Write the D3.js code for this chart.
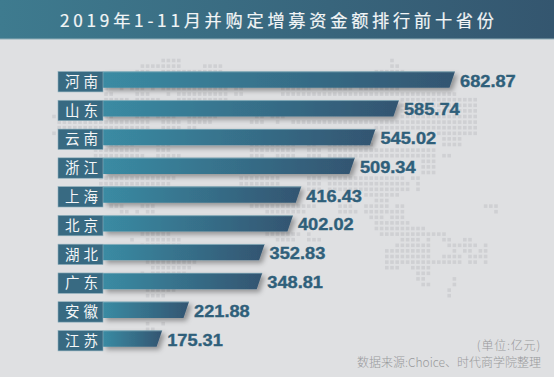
<!DOCTYPE html>
<html>
<head>
<meta charset="utf-8">
<script src="https://cdn.jsdelivr.net/npm/d3@7"></script>
<style>
  html, body { margin: 0; padding: 0; background: #dfe0e2; }
  svg { display: block; }
  text { font-family: "Noto Sans CJK SC", "Noto Sans", sans-serif; }
</style>
</head>
<body>
<div id="chart"></div>
<script>
const provinces = ['河南', '山东', '云南', '浙江', '上海', '北京', '湖北', '广东', '安徽', '江苏'];
const amounts = [682.87, 585.74, 545.02, 509.34, 416.43, 402.02, 352.83, 348.81, 221.88, 175.31];

const titleText = '2019年1-11月并购定增募资金额排行前十省份';
const unitText = '(单位:亿元)';
const sourceText = '数据来源:Choice、时代商学院整理';

// dot map behind the bars: row number, then column runs
const mapRows = [
  [0, '21-24 65'],
  [1, '17-24 29-32 65-66'],
  [2, '16-18 21-32 62-67'],
  [5, '10 13 15-17 19 21-33 35-36 44-49 52-57 59-66'],
  [6, '10-11 16-18 22 24-33 35-36 44-77'],
  [7, '10-14 16-20 24-33 67-81'],
  [8, '67-81'],
  [9, '67-81'],
  [10, '0 10-11 16-18 20-23 26-31 39-40 42-44 67-81'],
  [11, '1-18 21-24 26-30 38-40 43 46-81'],
  [12, '1-18 21-24 26-27 62-81'],
  [13, '0 74-81'],
  [14, '75-78'],
  [15, '10-15 20-22 38-46 49-50 53-61 75-78'],
  [16, '8-16 20-22 38-46 49-51 53-73'],
  [17, '8-17 20-24 38-40 43-46 49-51 53-73 75-76'],
  [18, '71-73'],
  [19, '71-73'],
  [20, '71-73'],
  [21, '9-23 36-43 49-51 53-67 69-70'],
  [22, '9-22 36-43 49-51 53-68 70'],
  [23, '49-51 53-68 70'],
  [24, '60-66'],
  [25, '62-64'],
  [26, '11-13 17-19 38-50 55-57 60-64 66-67 83-85'],
  [27, '13-14 16 18-19 41-48 55-58 60-67 85'],
  [28, '61-63 65-67'],
  [29, '62-66 67-68'],
  [30, '62-71'],
  [31, '17-22 41-47 49 63-69 70-75'],
  [32, '15 18-24 43-46 49-51 67-70 72 75-76 79-80'],
  [33, '17-24 66-72 76-81 83'],
  [34, '64-72 77 79-80 82-83'],
  [35, '64-72 75-78 80-83'],
  [36, '18-27 64-75 76-78 80-81 83'],
  [37, '19-26 64-66 69-72'],
  [38, '17 19-25 70-72'],
  [39, '70-71 77'],
  [40, '71-72 77'],
  [41, '18-23 76'],
  [42, '18-21 76'],
  [47, '18 21'],
  [48, '18-19']
];

const width = 554;
const height = 377;

const svg = d3.select('#chart')
  .append('svg')
  .attr('width', width)
  .attr('height', height);

const defs = svg.append('defs');

const headGrad = defs.append('linearGradient').attr('id', 'headGrad');
headGrad.append('stop').attr('offset', '0%').attr('stop-color', '#3e7b8f');
headGrad.append('stop').attr('offset', '100%').attr('stop-color', '#34566f');

const barGrad = defs.append('linearGradient').attr('id', 'barGrad');
barGrad.append('stop').attr('offset', '0%').attr('stop-color', '#3a8ba3');
barGrad.append('stop').attr('offset', '100%').attr('stop-color', '#335571');

const shadow = defs.append('filter').attr('id', 'barShadow')
  .attr('x', '-5%').attr('y', '-30%').attr('width', '115%').attr('height', '190%');
shadow.append('feDropShadow')
  .attr('dx', 3).attr('dy', 3).attr('stdDeviation', 2.4)
  .attr('flood-color', '#000').attr('flood-opacity', 0.34);

svg.append('rect').attr('width', width).attr('height', height).attr('fill', '#dfe0e2');

// header band
svg.append('rect').attr('width', width).attr('height', 39).attr('fill', 'url(#headGrad)');
svg.append('rect').attr('y', 38.5).attr('width', width).attr('height', 1).attr('fill', '#8fadb8');

svg.append('text')
  .attr('x', 60)
  .attr('y', 27)
  .attr('font-size', 17.2)
  .attr('letter-spacing', 3.75)
  .attr('fill', '#f2f5f6')
  .attr('stroke', '#f2f5f6')
  .attr('stroke-width', 0.2)
  .text(titleText);

// background dots
const mapX = d3.scaleLinear().domain([0, 1]).range([54, 59.2]);
const mapY = d3.scaleLinear().domain([0, 1]).range([60.5, 66.1]);

const mapDots = mapRows.flatMap(([row, runs]) =>
  runs.split(' ').flatMap(run => {
    const [from, to] = run.split('-').map(Number);
    return d3.range(from, (to === undefined ? from : to) + 1).map(col => ({row, col}));
  }));

svg.append('g')
  .selectAll('rect')
  .data(mapDots)
  .join('rect')
  .attr('x', d => mapX(d.col) - 1.8)
  .attr('y', d => mapY(d.row) - 1.8)
  .attr('width', 3.6)
  .attr('height', 3.6)
  .attr('fill', '#cfd0d3');

// bars
const rows = provinces.map((name, i) => ({name, value: amounts[i]}));

const x = d3.scaleLinear().domain([0, 682.87]).range([61, 455]);
const y = d3.scalePoint().domain(provinces).range([71.5, 330.5]);

const labelLeft = 58;
const labelRight = 103;
const labelHeight = 20.4;
const barHeight = 16.2;
const slant = 5.5;

const row = svg.append('g')
  .selectAll('g')
  .data(rows)
  .join('g')
  .attr('transform', d => `translate(0, ${y(d.name)})`);

row.append('path')
  .attr('d', d => `M${labelRight},0H${x(d.value)}L${x(d.value) - slant},${barHeight}H${labelRight}Z`)
  .attr('fill', 'url(#barGrad)')
  .attr('filter', 'url(#barShadow)');

row.append('line')
  .attr('x1', labelRight)
  .attr('x2', d => x(d.value))
  .attr('y1', 0.3)
  .attr('y2', 0.3)
  .attr('stroke', '#8fb6c2')
  .attr('stroke-width', 0.7);

row.append('rect')
  .attr('x', labelLeft)
  .attr('width', labelRight - labelLeft)
  .attr('height', labelHeight)
  .attr('fill', '#386a82')
  .attr('stroke', '#8fb0bc')
  .attr('stroke-width', 0.6);

row.append('text')
  .attr('x', 65)
  .attr('y', 15.4)
  .attr('font-size', 14.5)
  .attr('letter-spacing', 4)
  .attr('fill', '#f4f6f7')
  .text(d => d.name);

// value labels are a wide heavy face in the original, so stretch a bold one
row.append('text')
  .attr('transform', d => `translate(${x(d.value) + 5}, 15) scale(1.14, 1)`)
  .attr('font-size', 16)
  .attr('font-weight', 'bold')
  .style('font-family', '"Liberation Sans", sans-serif')
  .attr('fill', '#2f5f7a')
  .attr('stroke', '#2f5f7a')
  .attr('stroke-width', 0.35)
  .text(d => d.value.toFixed(2));

// footer
svg.append('text')
  .attr('x', 541).attr('y', 350)
  .attr('text-anchor', 'end')
  .attr('font-size', 12)
  .attr('font-weight', 300)
  .attr('letter-spacing', 0.8)
  .attr('fill', '#98999b')
  .text(unitText);

svg.append('text')
  .attr('x', 541).attr('y', 367)
  .attr('text-anchor', 'end')
  .attr('font-size', 12)
  .attr('font-weight', 300)
  .attr('fill', '#98999b')
  .text(sourceText);
</script>
</body>
</html>
